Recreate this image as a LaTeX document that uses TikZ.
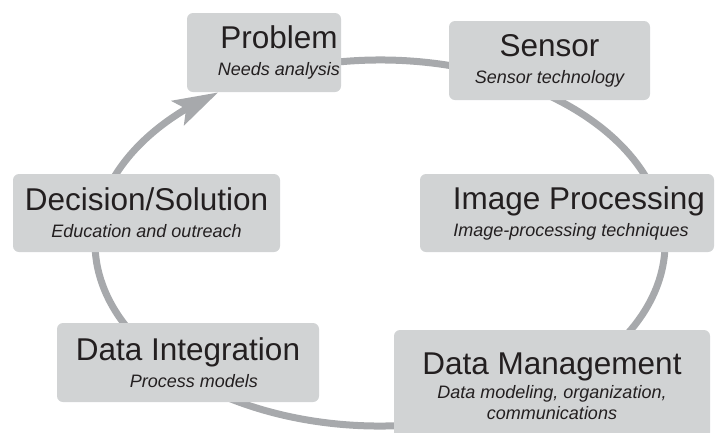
\documentclass[tikz,border=0pt]{standalone}
\usepackage{fontspec}
\setmainfont{Liberation Sans}
\usepackage{tikz}
\usetikzlibrary{arrows.meta, bending, backgrounds}

\definecolor{boxgray}{HTML}{D1D3D4}
\definecolor{ringgray}{HTML}{A7A9AC}
\definecolor{ink}{HTML}{231F20}
\newcommand{\stagetitle}[1]{{\upshape\fontsize{31.5}{27}\selectfont #1}}

\begin{document}
\begin{tikzpicture}[x=1pt, y=-1pt, >={Stealth[length=45pt, width=27pt, inset=9pt]},
    stage/.style={fill=boxgray, rounded corners=6pt, text=ink, align=center, inner sep=0pt,
      font=\itshape\fontsize{18}{27}\selectfont},
    ring/.style={draw=ringgray, line width=7pt}]
        \useasboundingbox (0,0) rectangle (717,432);
        \node[stage, minimum width=154pt, minimum height=79pt] (prob) at (264,52.5) {\hspace*{30pt}\stagetitle{Problem}\\ \hspace*{30pt}Needs analysis};
        \node[stage, minimum width=201pt, minimum height=79pt] (sens) at (549.5,60.5) {\stagetitle{Sensor}\\ Sensor technology};
        \node[stage, minimum width=267pt, minimum height=78pt] (dsol) at (146.5,213) {\stagetitle{Decision/Solution}\\ Education and outreach};
        \node[stage, minimum width=294pt, minimum height=78pt] (imgp) at (567,213) {\hspace*{24pt}\stagetitle{Image Processing}\\ \hspace*{8pt}Image-processing techniques};
        \node[stage, minimum width=262pt, minimum height=79pt] (dint) at (188,362.5) {\stagetitle{Data Integration}\\ \hspace*{12pt}Process models};
        \node[stage, minimum width=316pt, minimum height=112pt, font=\itshape\fontsize{18}{21}\selectfont] (dman) at (552,386) {\stagetitle{Data Management}\\[3pt] Data modeling, organization,\\ communications};
        \coordinate (ring) at (380,243);
        \begin{pgfonlayer}{background}
          \draw[ring, ->] ([shift={(ring)}]100:285pt and 183pt) arc[start angle=100, end angle=-235.4, x radius=285pt, y radius=183pt];
        \end{pgfonlayer}
      \end{tikzpicture}
\end{document}
